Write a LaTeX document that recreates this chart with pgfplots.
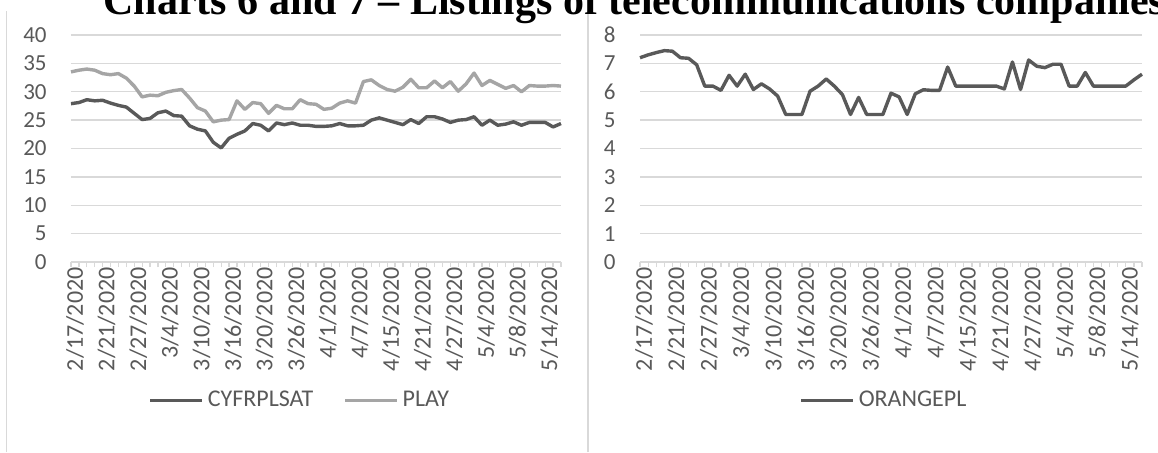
\documentclass[border=0pt]{standalone}
\usepackage{fontspec}
\setmainfont{Carlito}
\newfontfamily\titlefont{Liberation Serif}
\usepackage{pgfplots}
\usepackage{pgfplotstable}
\pgfplotsset{compat=1.18}

\definecolor{gridgray}{HTML}{D9D9D9}
\definecolor{txtgray}{HTML}{595959}
\definecolor{darkline}{HTML}{595959}
\definecolor{lightline}{HTML}{A5A5A5}

% trading days 2/17/2020 - 5/18/2020, index 0..62
\pgfplotstableread{
i cyf play
0 27.9 33.5
1 28.1 33.8
2 28.6 34.0
3 28.4 33.8
4 28.5 33.2
5 28.0 33.0
6 27.6 33.2
7 27.3 32.4
8 26.2 31.0
9 25.1 29.1
10 25.3 29.4
11 26.3 29.3
12 26.6 29.9
13 25.8 30.2
14 25.7 30.4
15 24.0 28.9
16 23.4 27.2
17 23.1 26.6
18 21.1 24.7
19 20.1 25.0
20 21.8 25.1
21 22.5 28.4
22 23.1 26.9
23 24.4 28.1
24 24.1 27.9
25 23.1 26.2
26 24.5 27.6
27 24.2 27.0
28 24.5 27.0
29 24.1 28.6
30 24.1 27.9
31 23.9 27.8
32 23.9 26.9
33 24.0 27.1
34 24.4 28.0
35 24.0 28.4
36 24.0 28.0
37 24.1 31.8
38 25.0 32.1
39 25.4 31.1
40 25.0 30.4
41 24.6 30.1
42 24.2 30.8
43 25.1 32.2
44 24.4 30.7
45 25.6 30.7
46 25.6 31.9
47 25.2 30.7
48 24.6 31.8
49 25.0 30.1
50 25.1 31.4
51 25.6 33.3
52 24.1 31.1
53 25.0 32.0
54 24.1 31.3
55 24.3 30.6
56 24.7 31.1
57 24.1 30.0
58 24.6 31.1
59 24.6 31.0
60 24.6 31.0
61 23.8 31.1
62 24.4 31.0
}\leftdata

\pgfplotstableread{
i orange
0 7.20
1 7.30
2 7.38
3 7.45
4 7.43
5 7.20
6 7.18
7 6.95
8 6.20
9 6.20
10 6.05
11 6.58
12 6.20
13 6.62
14 6.08
15 6.28
16 6.10
17 5.85
18 5.20
19 5.20
20 5.20
21 6.02
22 6.20
23 6.45
24 6.20
25 5.90
26 5.20
27 5.80
28 5.20
29 5.20
30 5.20
31 5.95
32 5.82
33 5.20
34 5.93
35 6.07
36 6.05
37 6.05
38 6.87
39 6.20
40 6.20
41 6.20
42 6.20
43 6.20
44 6.20
45 6.10
46 7.05
47 6.08
48 7.12
49 6.90
50 6.85
51 6.97
52 6.97
53 6.20
54 6.20
55 6.68
56 6.20
57 6.20
58 6.20
59 6.20
60 6.20
61 6.42
62 6.62
}\rightdata

\pgfplotsset{
  excelline/.style={
    scale only axis,
    height=113.5pt,
    xmin=0, xmax=62, ymin=0,
    separate axis lines,
    axis x line*=bottom,
    axis y line*=left,
    y axis line style={draw=none},
    x axis line style={gridgray, line width=0.65pt},
    ymajorgrids,
    grid style={gridgray, line width=0.65pt},
    xtick={0,...,62},
    xticklabels={2/17/2020,,,,2/21/2020,,,,2/27/2020,,,,3/4/2020,,,,3/10/2020,,,,3/16/2020,,,,3/20/2020,,,,3/26/2020,,,,4/1/2020,,,,4/7/2020,,,,4/15/2020,,,,4/21/2020,,,,4/27/2020,,,,5/4/2020,,,,5/8/2020,,,,5/14/2020},
    xtick align=outside,
    xtick style={gridgray, line width=0.6pt},
    major tick length=2.5pt,
    ytick style={draw=none},
    /pgf/number format/assume math mode=true,
    tick label style={text=txtgray},
    xticklabel style={font=\fontsize{12}{14}\selectfont, rotate=90, anchor=east, inner sep=0pt, yshift=-2pt},
    yticklabel style={font=\fontsize{11.5}{14}\selectfont, anchor=east, inner sep=0pt, xshift=-12pt},
    clip=false,
    legend style={draw=none, fill=none, anchor=center,
      font=\fontsize{12}{14}\selectfont, text=txtgray,
      /tikz/every even column/.append style={column sep=13pt}},
    legend cell align=left,
    legend columns=-1,
    legend image code/.code={\draw[#1, line width=1.6pt] (0pt,0pt) -- (26pt,0pt);},
    every axis plot/.append style={line width=1.7pt, line join=round, mark=none},
  }
}

\begin{document}
\begin{tikzpicture}
\useasboundingbox (0pt,0pt) rectangle (579pt,226pt);
\clip (0pt,0pt) rectangle (579pt,226pt);

\draw[gridgray, line width=0.65pt] (3.25pt,0pt) -- (3.25pt,220.5pt);
\draw[gridgray, line width=0.65pt] (294pt,0pt) -- (294pt,220.5pt);

\node[anchor=base west, inner sep=0pt, font=\titlefont\bfseries\fontsize{21}{25}\selectfont]
  at (51.5pt,219pt) {Charts 6 and 7 – Listings of telecommunications companies};

\begin{axis}[excelline,
  at={(35.5pt,95pt)}, anchor=south west,
  width=245pt,
  ymax=40, ytick={0,5,...,40},
  legend style={at={(0.469,-0.61)}},
]
\addplot[darkline] table[x=i, y=cyf] {\leftdata};
\addlegendentry{CYFRPLSAT}
\addplot[lightline] table[x=i, y=play] {\leftdata};
\addlegendentry{PLAY}
\end{axis}

\begin{axis}[excelline,
  at={(320pt,95pt)}, anchor=south west,
  width=251pt,
  ymax=8, ytick={0,1,...,8},
  legend style={at={(0.488,-0.61)}},
]
\addplot[darkline] table[x=i, y=orange] {\rightdata};
\addlegendentry{ORANGEPL}
\end{axis}
\end{tikzpicture}
\end{document}
